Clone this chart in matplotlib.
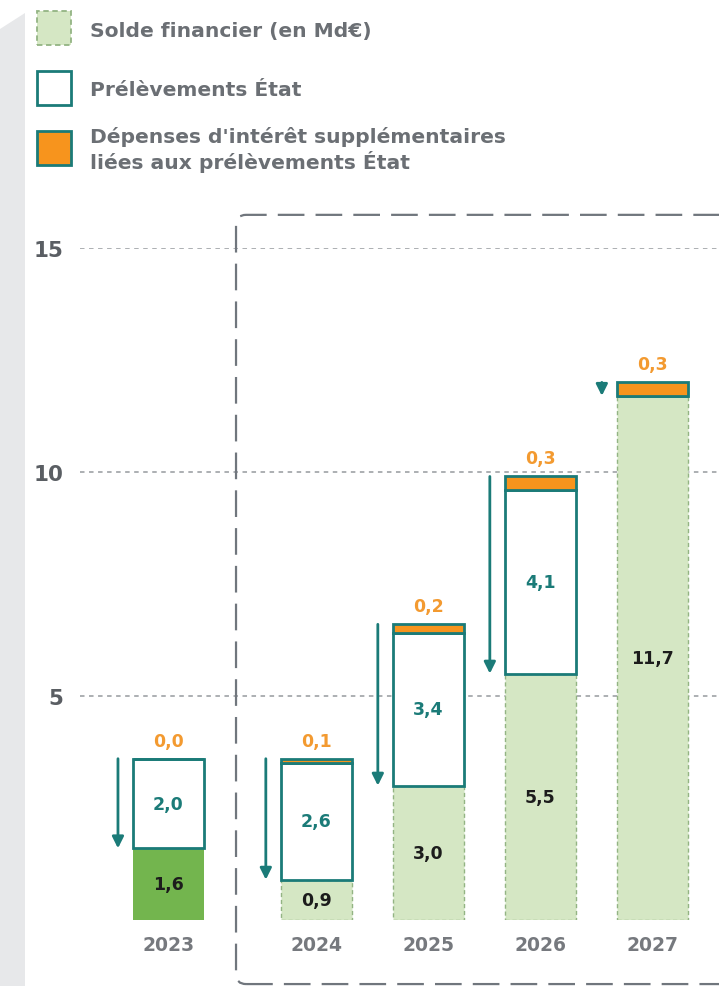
"""Solde financier / prélèvements État, 2023-2027 -- stacked bars."""

import matplotlib
matplotlib.use("Agg")
import matplotlib.pyplot as plt
from matplotlib.patches import FancyBboxPatch, Polygon, Rectangle

# data (Md€)
years = ["2023", "2024", "2025", "2026", "2027"]
solde = [1.6, 0.9, 3.0, 5.5, 11.7]
prelevements = [2.0, 2.6, 3.4, 4.1, 0.0]
interets = [0.0, 0.1, 0.2, 0.3, 0.3]
y_ticks = [5, 10, 15]

legend_labels = [
    "Solde financier (en Md€)",
    "Prélèvements État",
    "Dépenses d'intérêt supplémentaires\nliées aux prélèvements État",
]

# colours
TEAL = "#1b7b78"
ORANGE = "#f7941d"
ORANGE_TXT = "#f39a30"
GREEN_LIGHT = "#d5e7c4"
GREEN_EDGE = "#93b483"
GREEN_DARK = "#73b54e"
GREY_TXT = "#6b6f74"
GREY_TICK = "#5a5e63"
GREY_GRID = "#a6a9ad"
GREY_BOX = "#70767d"

plt.rcParams["font.family"] = ["DejaVu Sans"]
plt.rcParams["font.weight"] = "bold"

W, H = 719, 987
fig = plt.figure(figsize=(W / 100, H / 100), dpi=100)


def fx(px):
    return px / W


def fy(py):
    return 1 - py / H


# grey strip on the left edge
fig.add_artist(Polygon([(fx(0), fy(30)), (fx(25), fy(14)), (fx(25), fy(H)), (fx(0), fy(H))],
                       closed=True, transform=fig.transFigure, facecolor="#e7e8ea",
                       edgecolor="none", zorder=0))

# plot area: x 80..719 px, y 249 (15) .. 921 (0)
ax = fig.add_axes([fx(80), fy(921), fx(719) - fx(80), (921 - 249) / H])
ax.set_xlim(-0.79, 4.915)
ax.set_ylim(0, 15)
for s in ax.spines.values():
    s.set_visible(False)

x = [0, 1.32, 2.32, 3.32, 4.32]
bw = 0.634

for yv in y_ticks:
    ax.axhline(yv, color=GREY_GRID, lw=1.3, dashes=(2.5, 2.5), zorder=0)

ax.set_yticks(y_ticks)
ax.set_yticklabels([str(v) for v in y_ticks], fontsize=15.5, color=GREY_TICK, fontweight="bold")
ax.tick_params(axis="y", length=0, pad=12)
ax.set_xticks(x)
ax.set_xticklabels(years, fontsize=13.5, color="#76797e", fontweight="bold")
ax.tick_params(axis="x", length=0, pad=11)

# dashed frame around the projection years
frame = FancyBboxPatch((0.603, -1.43), 5.0, 17.17,
                       boxstyle="round,pad=0,rounding_size=0.09", mutation_aspect=2.5,
                       facecolor="none", edgecolor=GREY_BOX, lw=1.6,
                       linestyle=(0, (12, 5)), clip_on=False, zorder=1)
ax.add_patch(frame)

# bars
solde_colors = [GREEN_DARK] + [GREEN_LIGHT] * (len(years) - 1)
for i in range(len(years)):
    if i == 0:
        ax.bar(x[i], solde[i], bw, color=solde_colors[i], edgecolor="none", zorder=3)
    else:
        ax.bar(x[i], solde[i], bw, color=solde_colors[i], edgecolor=GREEN_EDGE,
               lw=1.0, linestyle=(0, (3, 2)), zorder=3)

top_solde = solde
top_prel = [s + p for s, p in zip(solde, prelevements)]
total = [t + r for t, r in zip(top_prel, interets)]

ax.bar(x, prelevements, bw, bottom=top_solde, color="white", edgecolor=TEAL, lw=2.0, zorder=4)
ax.bar(x, interets, bw, bottom=top_prel, color=ORANGE, edgecolor=TEAL, lw=2.0, zorder=5)

fmt = lambda v: f"{v:.1f}".replace(".", ",")
for i in range(len(years)):
    ax.text(x[i], solde[i] / 2, fmt(solde[i]), ha="center", va="center",
            fontsize=12.5, color="#1c1c1c", fontweight="bold", zorder=6)
    if prelevements[i] > 0:
        ax.text(x[i], solde[i] + prelevements[i] / 2, fmt(prelevements[i]), ha="center",
                va="center", fontsize=12.5, color=TEAL, fontweight="bold", zorder=6)
    ax.annotate(fmt(interets[i]), (x[i], total[i]), xytext=(0, 13), textcoords="offset points",
                ha="center", va="center", fontsize=12.5, color=ORANGE_TXT, fontweight="bold")
    # arrow from the top of the stack down to the financial balance
    ax_x = x[i] - bw / 2 - 0.134
    ax.annotate("", xy=(ax_x, solde[i]), xytext=(ax_x, total[i]),
                arrowprops=dict(arrowstyle="-|>", color=TEAL, lw=2.0, mutation_scale=17,
                                shrinkA=0, shrinkB=0), zorder=6)

# legend, drawn by hand
sw = 34
rows = [(12, 31), (72, 91), (132, 150)]
for k, ((top, ty), lab) in enumerate(zip(rows, legend_labels)):
    if k == 0:
        kw = dict(facecolor=GREEN_LIGHT, edgecolor=GREEN_EDGE, lw=1.3, linestyle=(0, (3, 2)))
    elif k == 1:
        kw = dict(facecolor="white", edgecolor=TEAL, lw=2.0)
    else:
        kw = dict(facecolor=ORANGE, edgecolor=TEAL, lw=2.0)
    fig.add_artist(Rectangle((fx(37), fy(top + sw)), fx(sw), sw / H,
                             transform=fig.transFigure, **kw))
    fig.text(fx(90), fy(ty), lab, ha="left", va="center", fontsize=14.6, color=GREY_TXT,
             fontweight="bold", linespacing=1.2)

fig.savefig("out.png", dpi=100, facecolor="white")
